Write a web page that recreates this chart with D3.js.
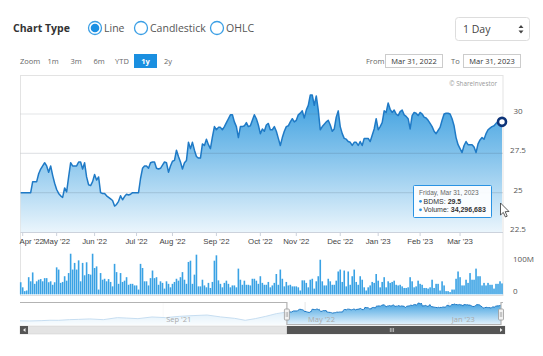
<!DOCTYPE html>
<html><head><meta charset="utf-8">
<script src="https://cdn.jsdelivr.net/npm/d3@7"></script>
<style>
body{margin:0;background:#fff;}
svg{display:block;font-family:"Open Sans",Arial,sans-serif;}
</style>
</head><body>
<svg id="c" width="543" height="356"></svg>
<script>
// ---------- DATA ----------
const startDate = "2022-03-31", endDate = "2023-03-31";
const holidays = ["2022-04-06","2022-04-13","2022-04-14","2022-04-15","2022-05-02","2022-05-04","2022-05-16",
  "2022-06-03","2022-07-13","2022-07-28","2022-07-29","2022-08-12","2022-10-13","2022-10-14","2022-10-24",
  "2022-12-05","2022-12-12","2022-12-30","2023-01-02","2023-03-06"];
const prices = [
25.0,25.0,25.0,25.0,25.0,25.0,25.7,25.7,25.7,26.2,
26.5,26.7,26.9,26.7,26.3,26.7,26.1,25.6,25.2,24.95,
24.8,24.7,25.3,25.05,26.0,26.9,26.7,26.7,26.7,26.95,
26.95,26.5,26.9,26.0,25.5,25.45,25.7,26.15,25.8,26.0,
25.0,24.95,24.95,24.8,24.7,24.6,24.5,24.15,24.25,24.45,
24.8,24.55,24.75,24.9,24.85,24.9,25.0,25.0,25.0,25.0,
25.9,26.55,26.7,26.7,26.55,26.9,26.95,26.95,26.55,26.5,
26.55,26.75,26.95,26.9,26.3,26.7,27.0,27.05,27.7,27.3,
26.95,26.5,26.9,27.05,28.2,27.8,28.2,27.7,27.3,27.2,
27.2,28.1,28.0,28.4,28.05,27.8,28.55,29.2,29.0,29.15,
29.15,29.0,29.2,29.45,29.7,29.95,29.95,29.5,29.2,28.5,
29.2,29.2,29.25,29.45,29.2,29.25,29.6,29.95,29.7,29.3,
28.75,29.05,28.9,29.3,29.4,29.0,29.0,29.2,28.9,28.45,
28.0,28.5,28.9,29.2,29.25,29.5,29.7,29.5,29.6,29.95,
30.05,30.2,29.75,30.25,30.55,31.2,31.2,30.55,31.15,30.25,
29.0,29.2,29.35,29.5,29.6,29.3,28.9,29.05,29.8,30.2,
29.2,28.75,28.45,28.4,28.25,28.2,28.0,28.2,28.2,28.0,
28.25,28.0,28.45,28.45,28.45,28.25,28.65,29.05,29.7,29.0,
29.2,29.45,30.2,30.1,30.7,30.3,30.1,30.25,30.0,29.9,
30.15,30.25,29.95,29.85,29.7,29.05,29.9,30.1,30.05,29.9,
30.1,30.0,29.8,29.75,29.6,29.4,29.2,28.9,28.75,28.95,
29.15,29.6,30.0,30.05,30.05,30.0,29.7,29.25,28.5,28.05,
27.8,27.55,28.0,28.25,28.05,28.05,28.05,27.9,27.55,28.1,
28.35,28.5,28.4,28.75,29.0,29.1,29.2,29.25,29.4,29.5,
29.6,29.5];
// volume in millions of shares
const volumesM = [
38,22,10,12,54,41,69,33,41,46,
48,41,51,51,38,41,30,38,85,78,
36,39,57,43,67,128,78,99,78,107,
41,99,60,101,64,62,128,83,88,15,
67,46,49,41,48,39,25,96,70,33,
67,39,43,54,30,33,33,28,28,15,
96,83,41,41,28,51,75,51,54,30,
41,36,18,41,33,22,33,39,49,43,
54,70,46,33,102,106,33,62,125,25,
25,46,28,22,36,20,39,106,123,44,
33,22,36,43,33,22,28,28,22,81,
46,30,43,30,30,28,49,49,43,33,
57,36,30,30,39,22,28,36,64,30,
78,49,25,39,28,30,25,25,25,22,
12,44,44,36,22,46,49,18,41,57,
109,41,28,28,49,41,30,30,43,72,
78,39,75,25,72,30,57,78,39,30,
57,46,22,12,22,28,39,36,64,43,
22,39,54,22,41,36,39,43,30,28,
30,25,20,20,22,54,41,22,25,43,
33,30,20,20,18,22,46,20,33,33,
12,41,28,10,10,7,15,15,49,72,
54,28,28,46,36,67,46,46,81,57,
57,28,36,28,36,30,30,18,33,33,
41,34.296683];
const priceTicks = [22.5, 25, 27.5, 30];
const volumeTicks = [0, 100];
const volumeTickLabels = ["0", "100M"];
// navigator: earlier history (before the selected year)
const navHistDates = ["2020-12-31","2021-01-16","2021-02-05","2021-02-20","2021-03-07","2021-03-25","2021-04-10",
  "2021-04-29","2021-05-22","2021-06-15","2021-07-01","2021-07-20","2021-08-13","2021-09-05","2021-09-29",
  "2021-10-22","2021-11-15","2021-12-08","2022-01-01","2022-01-19","2022-02-05","2022-02-23","2022-03-13","2022-03-30"];
const navHistValues = [18.9,18.8,19.0,19.3,19.25,19.7,19.9,20.2,19.7,21.1,20.8,20.4,21.55,21.1,22.0,22.5,22.9,21.6,20.6,19.25,20.4,22.0,23.85,24.9];
const navTickDates = ["2021-09-01","2022-05-01","2023-01-01"];
const zoomButtons = ["1m","3m","6m","YTD","1y","2y"];
const chartTypes = ["Line","Candlestick","OHLC"];

// ---------- SETUP ----------
const parse = d3.utcParse("%Y-%m-%d"), fmt = d3.utcFormat("%Y-%m-%d");
const dates = d3.utcDay.range(parse(startDate), d3.utcDay.offset(parse(endDate), 1))
  .filter(d => d.getUTCDay() % 6 !== 0 && !holidays.includes(fmt(d)));
const N = prices.length;

const svg = d3.select("#c");
const defs = svg.append("defs");
const blue = "#1f7ac6";
const axisFont = "'Liberation Sans', Arial, sans-serif";

// ---------- TOP CONTROLS ----------
svg.append("text").attr("x", 13).attr("y", 32).attr("font-size", 10.5).attr("font-weight", "bold")
  .attr("fill", "#333").text("Chart Type");
const radioX = [95, 141, 217];
chartTypes.forEach((t, k) => {
  svg.append("circle").attr("cx", radioX[k]).attr("cy", 28).attr("r", 6.5)
    .attr("fill", "#fff").attr("stroke", "#3b9fe5").attr("stroke-width", 1.3);
  if (k === 0) svg.append("circle").attr("cx", radioX[k]).attr("cy", 28).attr("r", 4.3).attr("fill", "#1a8fe3");
  svg.append("text").attr("x", radioX[k] + 9).attr("y", 32).attr("font-size", 10.5).attr("fill", "#555").text(t);
});
svg.append("rect").attr("x", 455.5).attr("y", 17.5).attr("width", 74).attr("height", 23).attr("rx", 3)
  .attr("fill", "#fff").attr("stroke", "#ddd");
svg.append("text").attr("x", 463).attr("y", 33).attr("font-size", 10.5).attr("fill", "#444").text("1 Day");
svg.append("path").attr("d", "M518.5,28 L521,25 L523.5,28 Z M518.5,30.5 L521,33.5 L523.5,30.5 Z").attr("fill", "#444");

svg.append("text").attr("x", 20).attr("y", 64).attr("font-size", 7.5).attr("fill", "#666").text("Zoom");
const zbX = [53, 76, 99, 122, 145.5, 168];
zoomButtons.forEach((b, k) => {
  if (b === "1y") {
    svg.append("rect").attr("x", 134).attr("y", 54).attr("width", 23).attr("height", 14).attr("fill", "#1a8fe0");
  }
  svg.append("text").attr("x", zbX[k]).attr("y", 64).attr("text-anchor", "middle").attr("font-size", 7.5)
    .attr("font-weight", b === "1y" ? "bold" : "normal").attr("fill", b === "1y" ? "#fff" : "#666").text(b);
});
svg.append("text").attr("x", 366).attr("y", 64).attr("font-size", 7.5).attr("fill", "#666").text("From");
svg.append("text").attr("x", 451).attr("y", 64).attr("font-size", 7.5).attr("fill", "#666").text("To");
[[385, "Mar 31, 2022"], [463, "Mar 31, 2023"]].forEach(([x, t]) => {
  svg.append("rect").attr("x", x + 0.5).attr("y", 54.5).attr("width", 57).attr("height", 13).attr("fill", "#fff").attr("stroke", "#ccc");
  svg.append("text").attr("x", x + 29).attr("y", 64).attr("text-anchor", "middle").attr("font-size", 7.5).attr("fill", "#333").text(t);
});

// ---------- MAIN PRICE PANEL ----------
const x = d3.scaleLinear().domain([0, N - 1]).range([20.7, 502]);
const y = d3.scaleLinear().domain([22.5, 30]).range([232, 114]);
const plotTop = 75, plotBottom = 232;

const g1 = defs.append("linearGradient").attr("id", "fillG").attr("gradientUnits", "userSpaceOnUse")
  .attr("x1", 0).attr("x2", 0).attr("y1", y(31.2)).attr("y2", plotBottom);
g1.append("stop").attr("offset", 0).attr("stop-color", "#3a9edf");
g1.append("stop").attr("offset", 0.45).attr("stop-color", "#86c4ec");
g1.append("stop").attr("offset", 1).attr("stop-color", "#eaf5fc");

svg.append("rect").attr("x", 20.5).attr("y", plotTop + 0.5).attr("width", 482.5).attr("height", 220)
  .attr("fill", "#fff").attr("stroke", "#e3e3e3");

const area = d3.area().x((d, i) => x(i)).y0(plotBottom).y1(d => y(d));
const line = d3.line().x((d, i) => x(i)).y(d => y(d));
svg.append("path").datum(prices).attr("d", area).attr("fill", "url(#fillG)");
// gridlines
priceTicks.filter(v => v > 22.5).forEach(v => {
  svg.append("line").attr("x1", 20.5).attr("x2", 503).attr("y1", y(v)).attr("y2", y(v))
    .attr("stroke", "rgba(60,70,90,0.14)").attr("stroke-width", 1.2);
});
svg.append("path").datum(prices).attr("d", line).attr("fill", "none").attr("stroke", blue).attr("stroke-width", 1.5)
  .attr("stroke-linejoin", "round");
// x axis
svg.append("line").attr("x1", 20.5).attr("x2", 503).attr("y1", plotBottom + 0.5).attr("y2", plotBottom + 0.5).attr("stroke", "#ccd2dc");
const monthIdx = [];
for (let i = 1; i < N; i++) if (dates[i].getUTCMonth() !== dates[i - 1].getUTCMonth()) monthIdx.push(i);
const mfmt = d3.utcFormat("%b '%y");
monthIdx.forEach((i, k) => {
  const px = x(i);
  svg.append("line").attr("x1", px).attr("x2", px).attr("y1", plotBottom).attr("y2", plotBottom + 4).attr("stroke", "#ccd2dc");
  const t = svg.append("text").attr("y", 244).attr("font-size", 7.8).attr("font-family", axisFont)
    .attr("fill", "#444").text(mfmt(dates[i]));
  if (k === 0) t.attr("x", 19.5).attr("text-anchor", "start");
  else t.attr("x", px).attr("text-anchor", "middle");
});
priceTicks.forEach(v => {
  svg.append("text").attr("x", 518).attr("y", y(v)).attr("text-anchor", "middle").attr("font-size", 8)
    .attr("fill", "#555").text(v);
});
svg.append("text").attr("x", 497).attr("y", 85.5).attr("text-anchor", "end").attr("font-size", 6.3)
  .attr("fill", "#999").text("© ShareInvestor");

// ---------- VOLUME PANEL ----------
const yv = d3.scaleLinear().domain([0, 100]).range([294.3, 262.6]);
svg.append("g").selectAll("rect").data(volumesM).join("rect")
  .attr("x", (d, i) => x(i) - 0.8).attr("width", 1.6)
  .attr("y", d => yv(d)).attr("height", d => yv(0) - yv(d)).attr("fill", "#3aa2e4");
svg.append("line").attr("x1", 20.5).attr("x2", 503).attr("y1", 295.5).attr("y2", 295.5).attr("stroke", "#e0e0e0");
volumeTicks.forEach((v, k) => {
  svg.append("text").attr("x", 513).attr("y", yv(v) - 0.5).attr("font-size", 8).attr("fill", "#555").text(volumeTickLabels[k]);
});

// ---------- TOOLTIP / MARKER ----------
svg.append("circle").attr("cx", x(N - 1)).attr("cy", y(prices[N - 1])).attr("r", 4)
  .attr("fill", "#fff").attr("stroke", "#0d3479").attr("stroke-width", 2.6);
const tt = svg.append("g").attr("font-family", axisFont);
tt.append("rect").attr("x", 413.5).attr("y", 185.5).attr("width", 78).attr("height", 32).attr("rx", 1)
  .attr("fill", "rgba(255,255,255,0.92)").attr("stroke", "#2a93e3");
tt.append("text").attr("x", 419).attr("y", 195).attr("font-size", 6.5).attr("fill", "#666").text("Friday, Mar 31, 2023");
const lastVol = d3.format(",")(Math.round(volumesM[N - 1] * 1e6));
[["BDMS: ", String(prices[N - 1]), 203.5], ["Volume: ", lastVol, 212]].forEach(([lab, val, yy]) => {
  tt.append("circle").attr("cx", 420.5).attr("cy", yy - 2.2).attr("r", 1.4).attr("fill", "#2a93e3");
  const t = tt.append("text").attr("x", 423.5).attr("y", yy).attr("font-size", 7).attr("fill", "#333");
  t.append("tspan").text(lab);
  t.append("tspan").attr("font-weight", "bold").text(val);
});
// mouse cursor
svg.append("path").attr("d", "M500.5,203 L500.5,215 L503.3,212.4 L505.4,217 L507.2,216.2 L505.2,211.7 L509,211.5 Z")
  .attr("fill", "#fff").attr("stroke", "#333").attr("stroke-width", 0.8);

// ---------- NAVIGATOR ----------
const navData = navHistDates.map((d, k) => ({ d: parse(d), v: navHistValues[k] }))
  .concat(dates.map((d, i) => ({ d, v: prices[i] })));
const nx = d3.scaleUtc().domain([parse("2020-12-31"), parse(endDate)]).range([20, 501]);
const ny = d3.scaleLinear().domain([16.7, 31.9]).range([324, 302]);
const g2 = defs.append("linearGradient").attr("id", "navG").attr("gradientUnits", "userSpaceOnUse")
  .attr("x1", 0).attr("x2", 0).attr("y1", 302).attr("y2", 325);
g2.append("stop").attr("offset", 0).attr("stop-color", "#3a9edf");
g2.append("stop").attr("offset", 1).attr("stop-color", "#e6f3fc");
navTickDates.forEach(s => {
  const px = nx(parse(s));
  svg.append("line").attr("x1", px).attr("x2", px).attr("y1", 302).attr("y2", 325).attr("stroke", "#e6e6e6");
});
svg.append("path").datum(navData)
  .attr("d", d3.area().x(p => nx(p.d)).y0(325).y1(p => ny(p.v)))
  .attr("fill", "url(#navG)");
svg.append("path").datum(navData)
  .attr("d", d3.line().x(p => nx(p.d)).y(p => ny(p.v)))
  .attr("fill", "none").attr("stroke", blue).attr("stroke-width", 1);
const hL = nx(parse(startDate)), hR = nx(parse(endDate));
svg.append("rect").attr("x", 20).attr("y", 302).attr("width", hL - 20).attr("height", 23).attr("fill", "rgba(255,255,255,0.75)");
const nfmt = d3.utcFormat("%b '%y");
navTickDates.forEach(s => {
  const px = nx(parse(s));
  svg.append("text").attr("x", px + 3).attr("y", 322).attr("font-size", 7.5).attr("fill", "#aaa").text(nfmt(parse(s)));
});
svg.append("path").attr("d", `M20,302.5 H${hL} V324.5 H${hR} V302.5 H503`)
  .attr("fill", "none").attr("stroke", "#b3b3b3").attr("stroke-width", 1.2);
[hL, hR].forEach(px => {
  svg.append("rect").attr("x", px - 2.5).attr("y", 309).attr("width", 5).attr("height", 11).attr("rx", 1)
    .attr("fill", "#f2f2f2").attr("stroke", "#999").attr("stroke-width", 0.8);
  svg.append("line").attr("x1", px - 0.7).attr("x2", px - 0.7).attr("y1", 312).attr("y2", 317).attr("stroke", "#999").attr("stroke-width", 0.6);
  svg.append("line").attr("x1", px + 0.7).attr("x2", px + 0.7).attr("y1", 312).attr("y2", 317).attr("stroke", "#999").attr("stroke-width", 0.6);
});
// scrollbar
svg.append("rect").attr("x", 20).attr("y", 326).attr("width", 485).attr("height", 8).attr("fill", "#e4e4e4").attr("stroke", "#ccc").attr("stroke-width", 0.5);
svg.append("rect").attr("x", hL).attr("y", 326).attr("width", 497 - hL).attr("height", 8).attr("fill", "#555");
[[20, "M25.5,328 L23,330 L25.5,332 Z"], [497, "M500,328 L502.5,330 L500,332 Z"]].forEach(([bx, p]) => {
  svg.append("rect").attr("x", bx).attr("y", 326).attr("width", 8).attr("height", 8).attr("fill", "#555");
  svg.append("path").attr("d", p).attr("fill", "#eee");
});
const mid = (hL + 497) / 2;
[-1.6, 0, 1.6].forEach(o => svg.append("line").attr("x1", mid + o).attr("x2", mid + o).attr("y1", 328).attr("y2", 332)
  .attr("stroke", "#ddd").attr("stroke-width", 0.7));
</script>
</body></html>
